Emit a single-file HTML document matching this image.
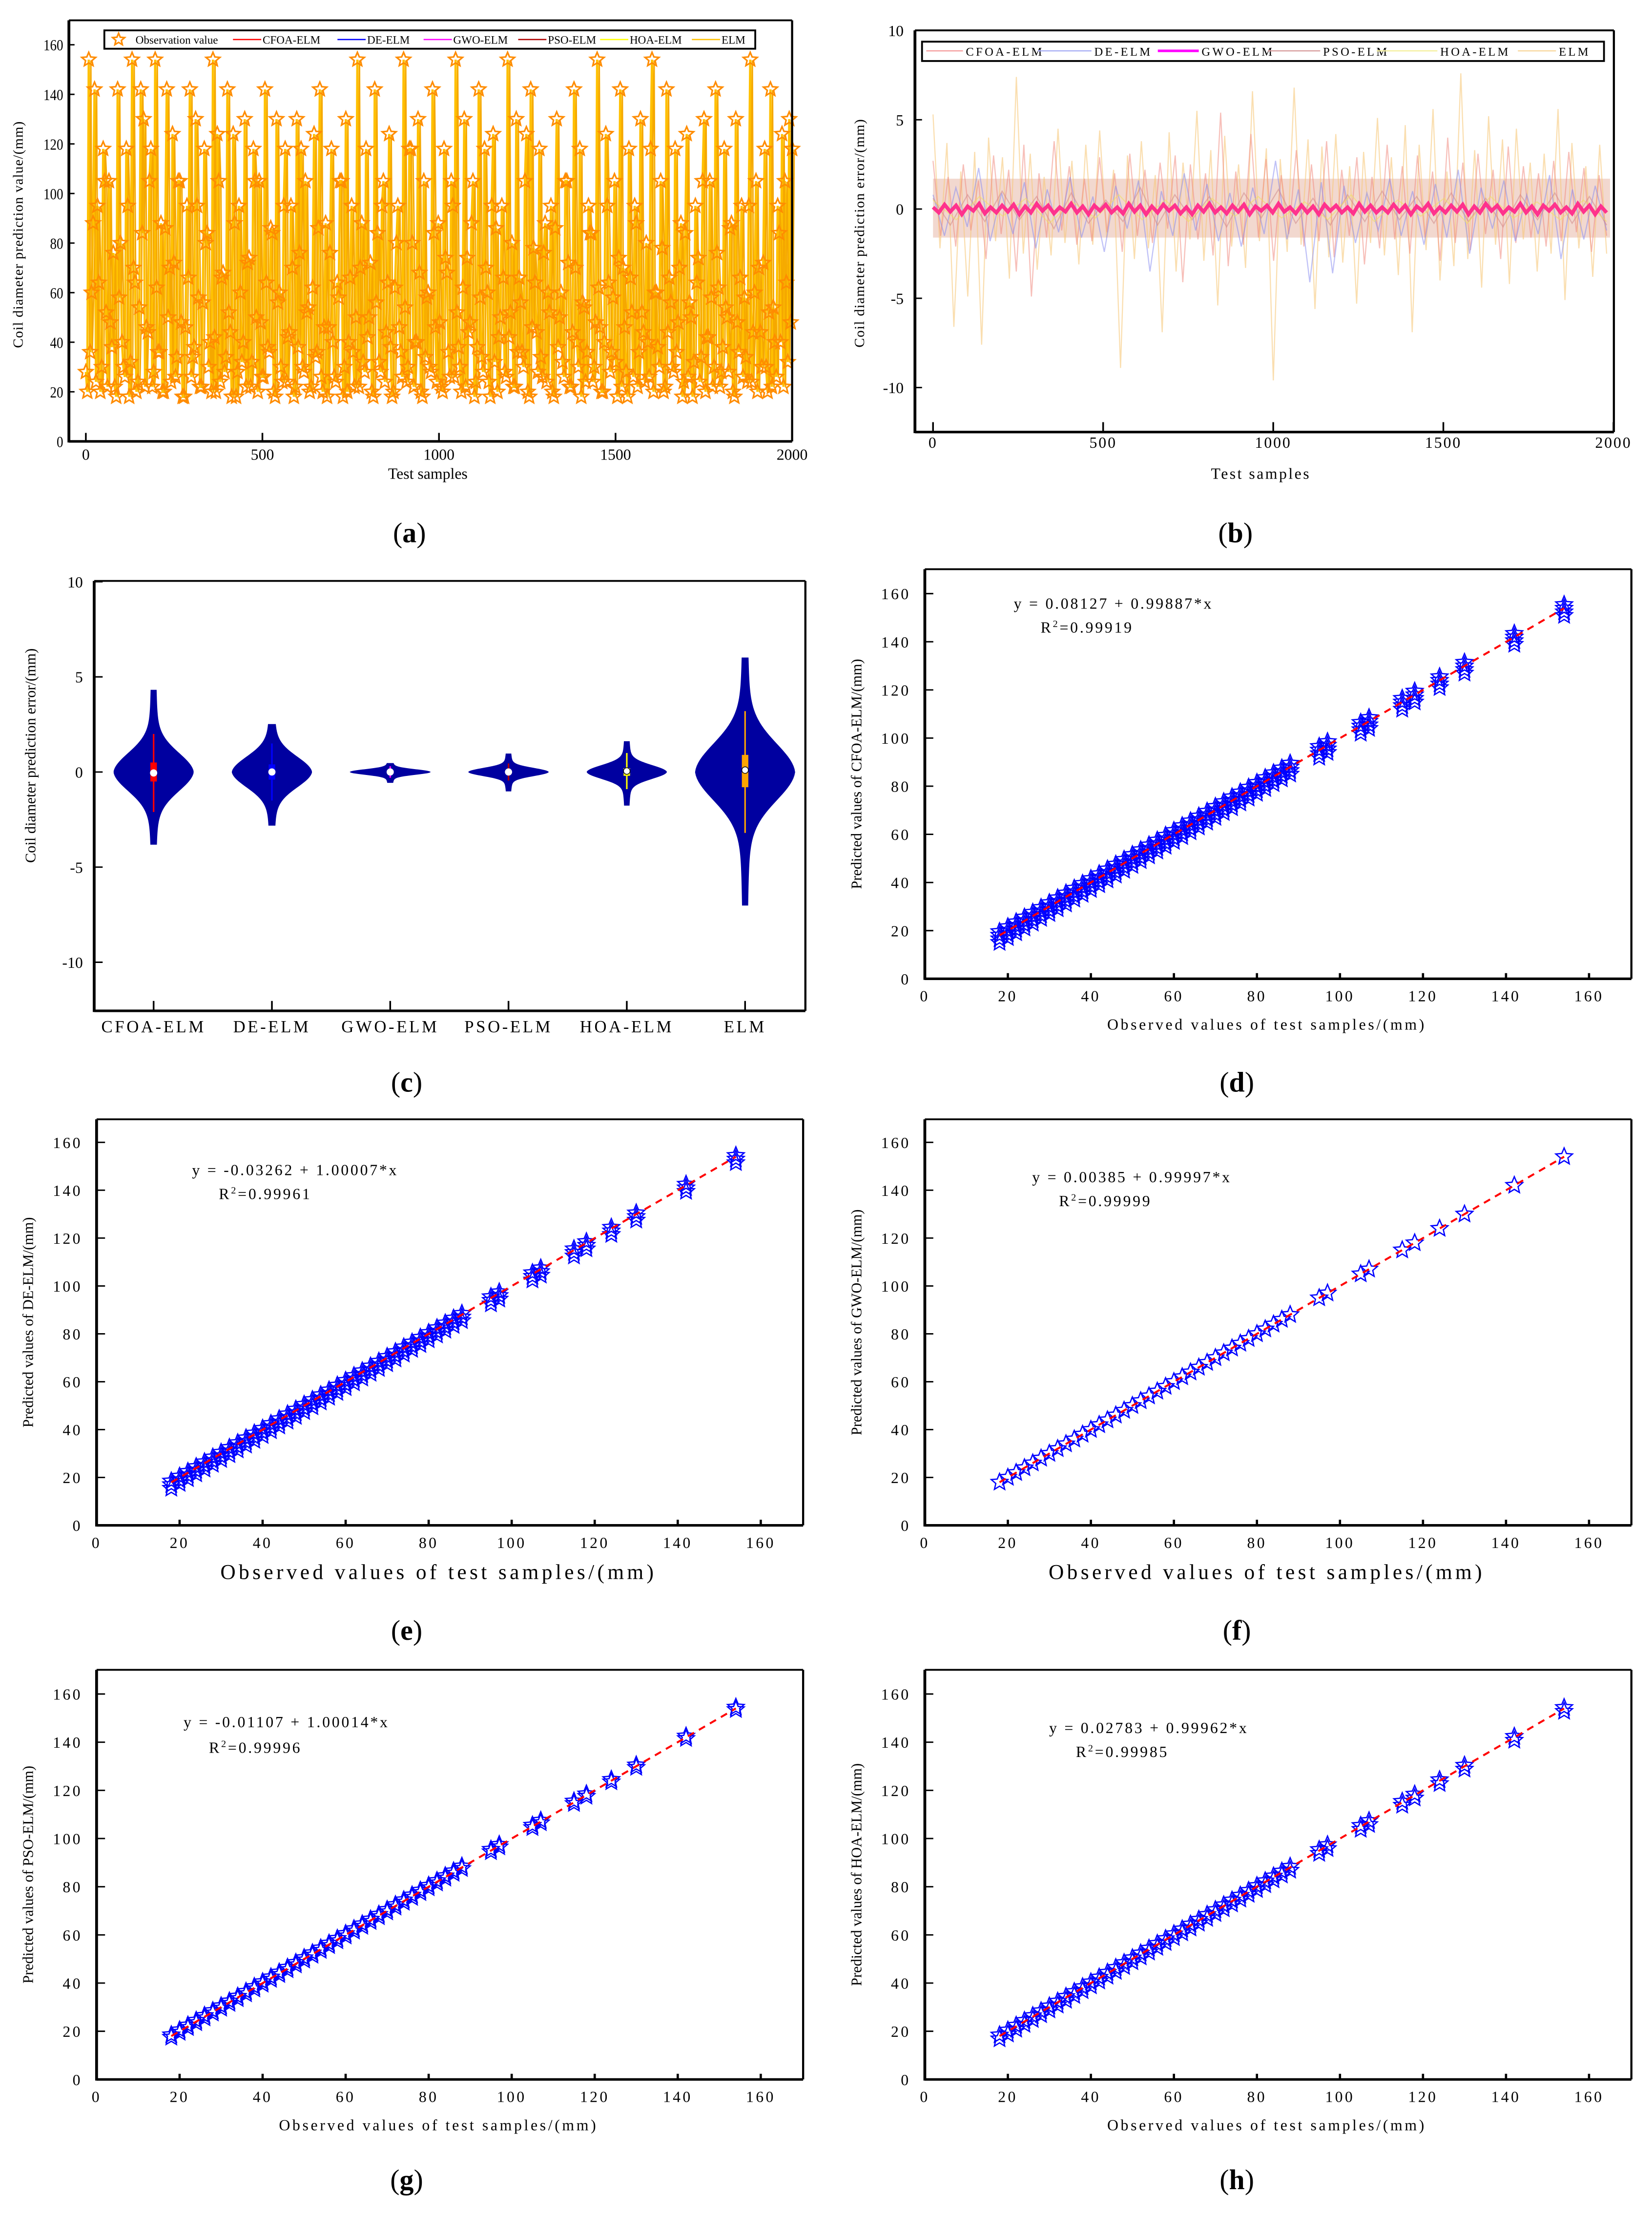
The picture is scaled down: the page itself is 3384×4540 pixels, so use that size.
<!DOCTYPE html>
<html><head><meta charset="utf-8"><style>
html,body{margin:0;padding:0;background:#fff;}
svg{display:block;}
text{font-family:"Liberation Serif",serif;fill:#000;}
</style></head><body>
<svg id="fig" xmlns="http://www.w3.org/2000/svg" width="3384" height="4540" viewBox="0 0 1170 1569.7" preserveAspectRatio="none">
<rect x="0" y="0" width="1170" height="1569.7" fill="#fff"/>
<g id="root"></g>
</svg>
<script>
// ---------- DATA ----------
const obsA = [28,154,60,142,95,20,118,52,105,38,22,142,80,30,118,18,154,64,24,142,130,46,105,22,154,36,88,20,142,70,124,26,105,48,18,95,142,34,130,58,22,118,84,40,154,20,105,66,28,142,44,124,18,95,32,130,72,22,118,50,105,26,142,38,86,20,130,60,24,118,42,95,18,130,76,30,105,54,22,124,36,142,20,88,46,118,26,64,105,18,130,40,95,22,154,70,32,118,50,20,142,84,28,105,44,124,18,62,95,36,154,24,118,80,40,130,20,105,58,30,142,46,88,22,118,68,26,95,154,38,20,130,74,48,105,24,142,34,118,60,18,124,86,42,95,28,154,52,22,130,66,36,105,20,142,78,44,118,26,88,60,95,18,130,50,32,105,72,22,142,40,118,56,24,95,84,30,154,46,20,124,64,36,105,18,142,70,28,118,52,95,22,130,44,80,26,154,60,38,105,20,142,66,30,118,48,88,24,124,56,18,95,74,34,130,42,105,22,142,62,28,118,50,86,20,130,36,95,58,24,154,44,105,70,30,118,20,142,54,26,95,84,40,124,22,105,64,32,130,48,118];
const obsA2 = [20,36,88,24,64,30,105,22,48,76,18,58,40,26,95,32,70,20,54,84,22,44,118,28,62,36,20,86,50,24,72,34,105,18,46,66,26,38,95,22,56,80,30,20,42,124,24,68,34,52,18,88,28,60,40,22,74,32,105,20,48,26,64,36,84,18,56,30,95,24,44,70,22,38,118,28,52,20,62,34,86,26,46,18,76,40,24,58,105,30,20,66,36,50,22,88,28,42,72,18,56,32,95,24,64,38,20,80,46,26,54,30,118,22,40,68,18,34,60,28,84,24,48,20,74,36,105,26,52,30,62,22,44,88,18,38,58,28,70,24,95,32,20,50,66,26,42,80,22,36,56,30,124,18,46,64,28,34,76,24,52,20,86,38,60,26,105,22,44,70,30,18,54,36,84,24,48,62,20,40,95,28,58,32,74,22,46,18,66,26,88,36,52,24,40,118,20,60,30,78,22,44,56,28,36,70,18,84,26,50,32,64,24,105,20,42,58,30,76,22,38,54,28,88,18,48,66,26,34,95,24,60,20,44,72,30,52,22,40];
const errELM = [5.3,-2.2,3.7,-6.6,2.1,-4.9,3.2,-7.6,4.0,-1.8,2.9,-3.9,7.4,-2.5,3.1,-3.4,1.8,-2.6,4.5,-1.9,2.7,-3.1,3.6,-2.0,4.4,-1.6,2.2,-8.9,3.0,-2.8,3.8,-2.2,1.9,-6.9,4.3,-3.5,2.6,-1.7,5.5,-2.9,3.3,-5.4,4.1,-2.1,2.5,-3.3,6.6,-1.8,3.4,-9.6,2.8,-2.4,6.8,-2.0,3.9,-5.6,3.5,-2.7,4.2,-3.0,2.4,-5.3,3.2,-1.9,5.1,-2.6,2.9,-3.7,4.7,-6.9,3.6,-2.3,5.6,-4.0,2.1,-3.2,7.6,-2.8,3.3,-4.4,5.2,-2.0,3.9,-4.2,4.5,-1.7,2.6,-3.5,3.1,-2.5,5.6,-5.1,3.7,-2.2,2.4,-3.8,3.6,-2.5];
const errCFOA = [2.7,-1.5,1.8,-2.1,2.5,-1.2,1.6,-2.8,3.0,-1.4,2.2,-3.5,3.6,-4.9,2.0,-1.6,3.8,-1.2,2.4,-2.0,1.7,-1.8,2.9,-1.3,2.0,-2.4,3.1,-1.5,2.2,-1.9,2.6,-1.1,3.0,-4.1,2.5,-1.7,2.0,-2.6,5.4,-3.2,2.1,-2.0,4.2,-1.6,2.8,-2.9,1.9,-1.4,3.3,-2.1,2.5,-1.8,3.8,-2.7,2.2,-1.5,2.9,-3.1,1.8,-2.2,3.6,-1.7,2.4,-2.5,3.0,-1.6,2.1,-2.9,4.0,-1.9,2.6,-2.3,3.1,-1.4,2.2,-2.8,3.5,-1.9,2.4,-1.6,2.0,-2.1,2.7,-1.8,3.2,-1.3,2.3,-2.4,1.9,-1.5];
const errDE = [0.8,-1.5,1.2,-1.0,2.3,-1.8,0.9,-1.4,1.5,-2.2,1.1,-1.3,1.8,-1.6,0.7,-2.4,1.3,-1.1,1.6,-3.5,1.0,-1.5,2.0,-1.2,1.4,-1.8,0.9,-2.1,1.2,-1.4,2.7,-1.7,1.1,-4.1,1.5,-3.6,1.3,-1.9,0.9,-1.2,1.7,-1.5,1.0,-2.0,1.4,-1.6,2.2,-2.5,1.2,-1.1,1.6,-1.8,0.8,-1.4,1.9,-2.8,1.1,-1.7,1.3,-1.2];
const errPSO = [0.6,-0.9,0.8,-0.7,1.0,-0.6,0.7,-1.1,0.9,-0.8,0.5,-0.7,1.2,-0.9,0.8,-0.6,0.7,-1.0,0.9,-0.5,1.1,-0.8,0.6,-0.9,0.8,-0.7,1.0,-0.6,0.7,-0.8,0.9,-0.7,0.6,-1.0,0.8,-0.6,0.9,-0.8,0.7,-0.9];
const errHOA = [0.5,-0.6,0.7,-0.4,0.6,-0.8,0.4,-0.5,0.8,-0.6,0.5,-0.7,0.6,-0.4,0.7,-0.5,0.4,-0.6,0.8,-0.7,0.5,-0.4,0.6,-0.8,0.7,-0.5,0.4,-0.6,0.5,-0.7];
const errGWO = [0.1,-0.2,0.25,-0.15,0.2,-0.3,0.15,-0.1,0.3,-0.25,0.1,-0.2,0.2,-0.15,0.25,-0.3,0.15,-0.2,0.3,-0.1,0.2,-0.25,0.1,-0.15,0.3,-0.2,0.15,-0.3,0.2,-0.1,0.25,-0.2,0.1,-0.25,0.3,-0.15,0.2,-0.3,0.15,-0.2,0.25,-0.1,0.2,-0.25,0.1,-0.3,0.2,-0.15,0.3,-0.2,0.1,-0.25,0.2,-0.15,0.25,-0.3,0.15,-0.1,0.2,-0.2,0.3,-0.15,0.1,-0.25,0.2,-0.2,0.15,-0.3,0.25,-0.1,0.2,-0.2,0.1,-0.25,0.3,-0.15,0.2,-0.2,0.1,-0.2,0.25,-0.15,0.2,-0.3,0.15,-0.1,0.3,-0.25,0.1,-0.2,0.2,-0.15,0.25,-0.3,0.15,-0.2,0.3,-0.1,0.2,-0.25,0.1,-0.15,0.3,-0.2,0.15,-0.3,0.2,-0.1,0.25,-0.2,0.1,-0.25,0.3,-0.15,0.2,-0.3,0.15,-0.2];
const noiseBandB = [-1.6,1.7];
const yTicksA = [0,20,40,60,80,100,120,140,160];
const xTicksA = [0,500,1000,1500,2000];
const yTicksB = [10,5,0,-5,-10];
// violin (c)
const vCats = ["CFOA-ELM","DE-ELM","GWO-ELM","PSO-ELM","HOA-ELM","ELM"];
const vMax = [4.3,2.5,0.45,0.95,1.6,6.0];
const vMin = [-3.8,-2.8,-0.55,-1.0,-1.75,-7.0];
const vBody = [1.0,0.8,0.13,0.2,0.35,1.5];
const vQ1 = [-0.5,-0.4,-0.1,-0.1,-0.2,-0.8];
const vQ3 = [0.5,0.4,0.1,0.1,0.2,0.9];
const vWhLo = [-2.1,-1.5,-0.3,-0.45,-0.9,-3.2];
const vWhHi = [2.0,1.5,0.3,0.45,1.0,3.2];
const vMed = [-0.05,0.0,0.0,0.0,0.05,0.1];
const vBoxColor = ["#ff0000","#0000ff","#ff00ff","#b00000","#ffff00","#ffa500"];
// scatter (d-h)
const obsLevels = [18,20,22,24,26,28,30,32,34,36,38,40,42,44,46,48,50,52,54,56,58,60,62,64,66,68,70,72,74,76,78,80,82,84,86,88,95,97,105,107,115,118,124,130,142,154];
const intercepts = [0.08127,-0.03262,0.00385,-0.01107,0.02783];
const slopes = [0.99887,1.00007,0.99997,1.00014,0.99962];
const r2 = ["0.99919","0.99961","0.99999","0.99996","0.99985"];
const spreadD = [-3,-1.5,0,1.5];
const spreadE = [-2.5,-1,0.5];
const spreadF = [0];
const spreadG = [-0.5,0.5];
const spreadH = [-1.2,0.4];
const scTicks = [0,20,40,60,80,100,120,140,160];

// ---------- HELPERS ----------
const NS="http://www.w3.org/2000/svg";
const root=document.getElementById('root');
function mk(tag,attrs,parent){const e=document.createElementNS(NS,tag);for(const k in attrs)e.setAttribute(k,attrs[k]);(parent||root).appendChild(e);return e;}
function txt(s,x,y,size,anchor,extra,parent){const t=mk('text',Object.assign({x:x,y:y,'font-size':size,'text-anchor':anchor||'middle'},extra||{}),parent);t.textContent=s;return t;}
function starPath(cx,cy,r){let d='';for(let i=0;i<10;i++){const a=-Math.PI/2+i*Math.PI/5;const rr=i%2?r*0.45:r;d+=(i?'L':'M')+(cx+rr*Math.cos(a)).toFixed(2)+' '+(cy+rr*Math.sin(a)).toFixed(2);}return d+'Z';}
function frame(g,L,T,R,B){
  mk('line',{x1:L,y1:T,x2:R,y2:T,stroke:'#000','stroke-width':1.3},g);
  mk('line',{x1:R,y1:T,x2:R,y2:B,stroke:'#000','stroke-width':1.5},g);
  mk('line',{x1:L,y1:T,x2:L,y2:B+0.8,stroke:'#000','stroke-width':2},g);
  mk('line',{x1:L,y1:B,x2:R,y2:B,stroke:'#000','stroke-width':1.8},g);
}

// ---------- PANEL A ----------
(function(){
  const g=mk('g',{});
  
  
  const L=48.8,R=561,T=14.4,B=312.5;
  const xA=v=>60.8+v*(561-60.8)/2000, yA=v=>312.5-v*(312.5-31.7)/160;
  // interleave the two observation arrays into one sequence
  const seq=[];for(let i=0;i<Math.max(obsA.length,obsA2.length);i++){if(i<obsA.length)seq.push(obsA[i]);if(i<obsA2.length)seq.push(obsA2[i]);}
  const n=seq.length;
  let d='';seq.forEach((v,i)=>{d+=(i?'L':'M')+xA(i*2000/(n-1)).toFixed(2)+' '+yA(v).toFixed(2);});
  const pl=mk('path',{d:d,fill:'none',stroke:'#ffc000','stroke-width':1.6},g);
  
  
  const pl2=mk('path',{d:d,fill:'none',stroke:'#f5a800','stroke-width':1,transform:'translate(1.5,0.5)'},g);
  
  
  seq.forEach((v,i)=>{const s=mk('path',{d:starPath(xA(i*2000/(n-1)),yA(v),5.2),fill:'none',stroke:'#ff8c00','stroke-width':1.1},g);
    
    });
  frame(g,L,T,R,B);
  yTicksA.forEach(v=>{mk('line',{x1:L,y1:yA(v),x2:L+4,y2:yA(v),stroke:'#000','stroke-width':1},g);
    const t=txt(v,L-4,yA(v)+4,11,'end',{'transform':'scale(0.85,1)','transform-origin':(L-4)+' '+yA(v)},g);
    
    });
  xTicksA.forEach(v=>{mk('line',{x1:xA(v),y1:B,x2:xA(v),y2:B-6,stroke:'#000','stroke-width':1.2},g);
    const t=txt(v,xA(v),B+13,11,'middle',{},g);
    
    });
  const xt=txt('Test samples',303,339,11,'middle',{},g);
  
  
  const yt=txt('Coil diameter prediction value/(mm)',0,0,10,'middle',{transform:'translate(16,166) rotate(-90)','letter-spacing':'0.4'},g);
  
  
  const lg=mk('g',{},g);
  
  
  mk('rect',{x:73.9,y:21.5,width:461,height:13,fill:'#fff',stroke:'#000','stroke-width':1.3},lg);
  mk('path',{d:starPath(84,28,4.5),fill:'none',stroke:'#ff8c00','stroke-width':1.1},lg);
  txt('Observation value',96,31,8,'start',{},lg);
  const items=[['CFOA-ELM','#ff0000',165],['DE-ELM','#0000ff',239],['GWO-ELM','#ff00ff',300],['PSO-ELM','#b00000',367],['HOA-ELM','#ffff00',425],['ELM','#ffc000',490]];
  items.forEach(it=>{mk('line',{x1:it[2],y1:28,x2:it[2]+20,y2:28,stroke:it[1],'stroke-width':0.9},lg);
    const t=txt(it[0],it[2]+21,31,8,'start',{},lg);
    
    });
})();

// ---------- PANEL B ----------
(function(){
  const g=mk('g',{});
  
  
  const L=648,R=1143,T=21.5,B=305.9;
  const xB=v=>660.8+v*(1142.7-660.8)/2000, yB=v=>148-v*12.64;
  const band=mk('rect',{x:xB(0),y:yB(noiseBandB[1]),width:xB(1990)-xB(0),height:yB(noiseBandB[0])-yB(noiseBandB[1]),fill:'#e8b8a8','fill-opacity':0.55},g);
  
  
  function series(arr,col,op,w,name){let d='';const n=arr.length;arr.forEach((v,i)=>{d+=(i?'L':'M')+xB(i*1980/(n-1)).toFixed(2)+' '+yB(v).toFixed(2);});
    const p=mk('path',{d:d,fill:'none',stroke:col,'stroke-opacity':op,'stroke-width':w},g);
    
    }
  series(errELM,'#f7c87a',0.6,0.8,'elm-error-line');
  series(errCFOA,'#f08a80',0.55,0.8,'cfoa-error-line');
  series(errDE,'#8a8ef0',0.55,0.8,'de-error-line');
  series(errPSO,'#d28a8a',0.55,0.8,'pso-error-line');
  series(errHOA,'#f0e060',0.55,0.8,'hoa-error-line');
  series(errGWO,'#ff2a8a',0.95,2.6,'gwo-error-line');
  frame(g,L,T,R,B);
  yTicksB.forEach(v=>{mk('line',{x1:L,y1:yB(v),x2:L+5,y2:yB(v),stroke:'#000','stroke-width':1},g);
    const t=txt(v,L-8,yB(v)+4,11,'end',{},g);
    
    });
  xTicksA.forEach(v=>{mk('line',{x1:xB(v),y1:B,x2:xB(v),y2:B-7,stroke:'#000','stroke-width':1.2},g);
    const t=txt(v,xB(v),317,11,'middle',{'letter-spacing':'1'},g);
    
    });
  const xt=txt('Test samples',893,339,11,'middle',{'letter-spacing':'1.2'},g);
  
  
  const yt=txt('Coil diameter prediction error/(mm)',0,0,10,'middle',{transform:'translate(612,165) rotate(-90)','letter-spacing':'0.5'},g);
  
  
  const lg=mk('g',{},g);
  
  
  mk('rect',{x:653,y:29.5,width:483,height:13.7,fill:'#fff',stroke:'#000','stroke-width':1.3},lg);
  const items=[['CFOA-ELM','#f5a0a0',656,684],['DE-ELM','#aab0f5',735,775],['GWO-ELM','#ff00ff',820,851],['PSO-ELM','#d8a0a0',898,937],['HOA-ELM','#f5f0a0',975,1020],['ELM','#f8d8a0',1075,1104]];
  items.forEach(it=>{mk('line',{x1:it[2],y1:36,x2:it[3]-2,y2:36,stroke:it[1],'stroke-width':it[0]==='GWO-ELM'?1.8:0.9},lg);
    const t=txt(it[0],it[3],39.5,8.5,'start',{'letter-spacing':'1.5'},lg);
    
    });
})();

// ---------- PANEL C ----------
(function(){
  const g=mk('g',{});
  
  
  const L=66.7,R=570.4,T=411.3,B=715.7;
  const yC=v=>546.6-v*13.47;
  const xC=i=>108.8+i*(527.7-108.8)/5;
  vCats.forEach((c,i)=>{
    const W=(c==='ELM'?34:27), b=vBody[i], cx=xC(i);
    const pts=[];const N=80;
    for(let k=0;k<=N;k++){const y=vMin[i]+(vMax[i]-vMin[i])*k/N;
      const w=W*(0.82*Math.exp(-0.5*Math.pow(y/b,2))+0.18*Math.exp(-Math.abs(y)/(b*2.2)))+1.2;
      pts.push([y,w]);}
    let d='';pts.forEach((p,k)=>{d+=(k?'L':'M')+(cx+p[1]).toFixed(2)+' '+yC(p[0]).toFixed(2);});
    for(let k=pts.length-1;k>=0;k--){d+='L'+(cx-pts[k][1]).toFixed(2)+' '+yC(pts[k][0]).toFixed(2);}
    const v=mk('path',{d:d+'Z',fill:'#0000a0',stroke:'#0000a0','stroke-width':0.5},g);
    
    
    const wh=mk('line',{x1:cx,y1:yC(vWhLo[i]),x2:cx,y2:yC(vWhHi[i]),stroke:vBoxColor[i],'stroke-width':1.1},g);
    
    
    const bx=mk('rect',{x:cx-2.3,y:yC(vQ3[i]),width:4.6,height:yC(vQ1[i])-yC(vQ3[i]),fill:vBoxColor[i]},g);
    
    
    const md=mk('circle',{cx:cx,cy:yC(vMed[i]),r:2.3,fill:'#fff',stroke:(c==='ELM'||c==='HOA-ELM')?'#000':'#fff','stroke-width':0.5},g);
    
    
    mk('line',{x1:cx,y1:B,x2:cx,y2:B-7,stroke:'#000','stroke-width':1.2},g);
    const t=txt(c,cx,731,12,'middle',{'letter-spacing':'1.6'},g);
    
    
  });
  frame(g,L,T,R,B);
  yTicksB.forEach(v=>{mk('line',{x1:L,y1:yC(v),x2:L+6,y2:yC(v),stroke:'#000','stroke-width':1},g);
    const t=txt(v,L-8,yC(v)+4,11,'end',{},g);
    
    });
  const yt=txt('Coil diameter prediction error/(mm)',0,0,10.5,'middle',{transform:'translate(25,535) rotate(-90)'},g);
  
  
})();

// ---------- SCATTER PANELS ----------
const scPanels=[
 {id:'d',L:655,R:1155.4,T:403,B:693,y160:420.3,model:'CFOA-ELM',spread:spreadD,xtSize:11,eq:[718,431,737,448]},
 {id:'e',L:68.4,R:568.8,T:792.5,B:1080,y160:808.8,model:'DE-ELM',spread:spreadE,xtSize:15,eq:[136,832,155,849]},
 {id:'f',L:655,R:1155.4,T:792.5,B:1080,y160:808.8,model:'GWO-ELM',spread:spreadF,xtSize:15,eq:[731,837,750,854]},
 {id:'g',L:68.4,R:568.8,T:1182.3,B:1472.3,y160:1199.4,model:'PSO-ELM',spread:spreadG,xtSize:11,eq:[130,1223,148,1241]},
 {id:'h',L:655,R:1155.4,T:1182.3,B:1472.3,y160:1199.4,model:'HOA-ELM',spread:spreadH,xtSize:11,eq:[743,1227,762,1244]}
];
scPanels.forEach((p,pi)=>{
  const g=mk('g',{});
  
  
  const xs=v=>p.L+v*2.94, ys=v=>p.B-v*(p.B-p.y160)/160;
  const a=intercepts[pi], b=slopes[pi];
  obsLevels.forEach(o=>{p.spread.forEach(s=>{
    const st=mk('path',{d:starPath(xs(o),ys(a+b*o+s),6.2),fill:'none',stroke:'#0000ff','stroke-width':0.9},g);
    
    });});
  const fl=mk('line',{x1:xs(18),y1:ys(a+b*18),x2:xs(154),y2:ys(a+b*154),stroke:'#ff0000','stroke-width':1.4,'stroke-dasharray':'5,4'},g);
  
  
  frame(g,p.L,p.T,p.R,p.B);
  scTicks.forEach(v=>{
    mk('line',{x1:p.L,y1:ys(v),x2:p.L+6,y2:ys(v),stroke:'#000','stroke-width':1},g);
    const t=txt(v,p.L-10,ys(v)+4,11,'end',{'letter-spacing':'1.5'},g);
    
    
    if(v>0){mk('line',{x1:xs(v),y1:p.B,x2:xs(v),y2:p.B-4,stroke:'#000','stroke-width':1.6},g);}
    const u=txt(v,xs(v),p.B+16,11,'middle',{'letter-spacing':'1.5'},g);
    
    
  });
  const xt=txt('Observed values of test samples/(mm)',(p.L+p.R)/2-8,p.xtSize>12?p.B+38:p.B+36,p.xtSize,'middle',{'letter-spacing':p.xtSize>12?'2.2':'1.6'},g);
  
  
  const yt=txt('Predicted values of '+p.model+'/(mm)',0,0,10.5,'middle',{transform:'translate('+(p.L-45)+','+((p.T+p.B)/2)+') rotate(-90)'},g);
  
  
  const eqs=(a<0?'y = -'+Math.abs(a).toFixed(5)+' + ':'y = '+a.toFixed(5)+' + ')+b.toFixed(5)+'*x';
  const e1=txt(eqs,p.eq[0],p.eq[1],11,'start',{'letter-spacing':'1.3'},g);
  
  
  const e2=mk('text',{x:p.eq[2],y:p.eq[3],'font-size':11,'text-anchor':'start','letter-spacing':'1.3'},g);
  e2.innerHTML='R<tspan dy="-4" font-size="7">2</tspan><tspan dy="4">='+r2[pi]+'</tspan>';
  
  
});

// ---------- PANEL LABELS ----------
[['a',290,384],['b',875,384],['c',288,773],['d',876,773],['e',288,1161],['f',876,1161],['g',288,1550],['h',876,1550]].forEach(l=>{
  const t=mk('text',{x:l[1],y:l[2],'font-size':20,'text-anchor':'middle'});
  t.innerHTML='(<tspan font-weight="bold">'+l[0]+'</tspan>)';
  
  
});
</script>
</body></html>
